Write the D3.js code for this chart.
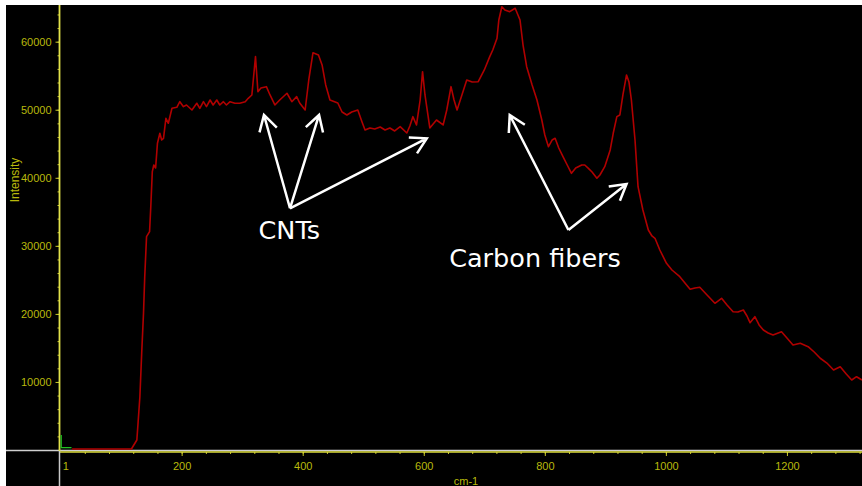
<!DOCTYPE html>
<html>
<head>
<meta charset="utf-8">
<title>Spectrum</title>
<script src="https://cdnjs.cloudflare.com/ajax/libs/d3/7.8.5/d3.min.js"></script>
<style>
body { margin: 0; background: #fff; }
svg { display: block; }
.tick text { font-family: "Liberation Sans", Arial, sans-serif; font-size: 11px; fill: #b9b90c; }
.tick line { stroke: #c8c828; }
.axlabel { font-family: "Liberation Sans", Arial, sans-serif; font-size: 11px; fill: #b9b90c; }
.note { font-family: "DejaVu Sans", sans-serif; font-size: 25.5px; fill: #fff; }
</style>
</head>
<body>
<svg width="862" height="486"></svg>
<script>
// spectrum: wavenumber (cm-1) / intensity
var wavenumber = [19,117,126,131,134,137,139,142,147,149,151.5,154,157,160,164,167,170,174,178,184,192,197,
  203,208,217,225,230,236,241,247,252,258,263,269,274,280,288,296,305,310,316,322,326,331,340,346,354,362,
  374,382,390,395,404,410,417,426,432,438,445,458,465,473,481,491,498,503,511,519,528,536,544,552,561,572,
  577,582,588,594,598,602,610,621,632,638,645,650,655,663,671,680,690,700,709,714,721,724,729,734,742,751,
  759,764,770,779,787,795,800,806,812,817,823,830,837,844,851,861,866,872,878,886,891,899,908,913,919,924,
  929,935,939,943,949,954,962,971,977,982,990,1001,1010,1023,1040,1048,1056,1068,1081,1092,1101,1111,1119,
  1128,1134,1139,1147,1154,1161,1169,1177,1191,1200,1210,1222,1235,1245,1255,1266,1277,1288,1298,1307,1315,1324];
var intensity = [150,150,1470,7830,14250,20130,25470,31350,32080,35750,40900,41880,41440,45070,46540,45550,45800,48740,48010,50210,50360,51180,
  50450,50700,49960,50950,50210,51180,50450,51430,50700,51430,50700,51180,50700,51180,50950,50950,51180,51680,52170,57800,52650,53200,53390,52170,50700,51430,
  52420,51180,51920,50990,49960,54370,58380,58050,56580,53640,51430,50990,49670,49230,49670,49960,48200,47020,47320,47170,47460,47020,47320,46880,47510,46580,
  47610,48980,47760,51430,55590,52170,47320,48490,47760,49960,53390,51430,49960,52170,54370,54080,54120,55840,57800,58780,60500,63190,65140,64660,64410,64910,
  63190,59510,56330,53640,51430,48490,46290,44570,45550,45800,44380,43100,41880,40660,41440,41880,41880,41390,40850,39930,40410,41630,44090,46540,48980,49230,
  52170,55110,54080,51430,45550,38690,35270,32330,31450,31110,29390,27430,26450,25470,23620,23810,23910,22780,21560,22290,21310,20320,20280,
  20570,19690,18710,19590,18370,17630,17190,16900,17380,16460,15430,15680,15180,14400,13480,12780,11760,12240,11170,10290,10770,10290];

// short green trace at the origin
var greenWave = [1, 1, 18];
var greenInt = [2200, 340, 340];

var yMajor = [10000, 20000, 30000, 40000, 50000, 60000];
var xMajor = [1, 200, 400, 600, 800, 1000, 1200];

// annotations: [x, intensity]
var cntFrom = [379, 35520];
var cntTips = [[336, 49230], [427, 49230], [605, 45800]];
var fiberFrom = [839, 32330];
var fiberTips = [[742, 49230], [935, 39090]];
var notes = [["CNTs", 327, 30960], ["Carbon fibers", 642, 26940]];

var svg = d3.select("svg");
var W = 862, H = 486;

var x = d3.scaleLinear().domain([1, 1324]).range([61.2, 862]);
var y = d3.scaleLinear().domain([0, 65390]).range([450, 5]);

svg.append("rect").attr("x", 6).attr("y", 5).attr("width", W - 6).attr("height", H - 5).attr("fill", "#000");

svg.append("clipPath").attr("id", "plot")
  .append("rect").attr("x", 6).attr("y", 5).attr("width", W - 6).attr("height", 446);

// y axis
var yMinor = svg.append("g").attr("transform", "translate(59.5,0)")
  .call(d3.axisLeft(y).tickValues(d3.range(2000, 64001, 2000)).tickSize(2).tickFormat(""));
var yAx = svg.append("g").attr("transform", "translate(59.5,0)")
  .call(d3.axisLeft(y).tickValues(yMajor).tickSize(4).tickPadding(4).tickFormat(d3.format("d")));
yMinor.select(".domain").remove();
yAx.select(".domain").remove();

// x axis
var xMinor = svg.append("g").attr("transform", "translate(0,452)")
  .call(d3.axisBottom(x).tickValues(d3.range(40, 1321, 40)).tickSize(2).tickFormat(""));
var xAx = svg.append("g").attr("transform", "translate(0,452)")
  .call(d3.axisBottom(x).tickValues(xMajor).tickSize(4).tickPadding(6).tickFormat(d3.format("d")));
xMinor.select(".domain").remove();
xAx.select(".domain").remove();
xAx.selectAll(".tick").filter(function(d) { return d == 1; })
  .select("text").attr("text-anchor", "start").attr("x", 1);
xAx.selectAll(".tick").filter(function(d) { return d == 1; }).select("line").remove();

// axis lines
svg.append("line").attr("x1", 6).attr("x2", W).attr("y1", 450.5).attr("y2", 450.5)
  .attr("stroke", "#cfcfcf").attr("stroke-width", 1.5);
svg.append("line").attr("x1", 59.5).attr("x2", W).attr("y1", 452).attr("y2", 452)
  .attr("stroke", "#dede3c").attr("stroke-width", 1.5);
svg.append("line").attr("x1", 59.5).attr("x2", 59.5).attr("y1", 451).attr("y2", H)
  .attr("stroke", "#c8c8c8").attr("stroke-width", 1.5);
svg.append("line").attr("x1", 59.5).attr("x2", 59.5).attr("y1", 5).attr("y2", 451)
  .attr("stroke", "#e2e24a").attr("stroke-width", 1.8);

svg.append("text").attr("class", "axlabel")
  .attr("transform", "translate(19,180) rotate(-90)")
  .attr("text-anchor", "middle").style("font-size", "12px").text("Intensity");
svg.append("text").attr("class", "axlabel")
  .attr("x", 466).attr("y", 485).attr("text-anchor", "middle").text("cm-1");

// traces
var line = d3.line()
  .x(function(d) { return x(d[0]); })
  .y(function(d) { return y(d[1]); });

svg.append("path")
  .datum(greenWave.map(function(w, i) { return [w, greenInt[i]]; }))
  .attr("d", line).attr("fill", "none").attr("stroke", "#22c022").attr("stroke-width", 1.3);

svg.append("path")
  .datum(wavenumber.map(function(w, i) { return [w, intensity[i]]; }))
  .attr("clip-path", "url(#plot)")
  .attr("d", line).attr("fill", "none").attr("stroke", "#b00000")
  .attr("stroke-width", 1.6).attr("stroke-linejoin", "round");

// arrows
function arrow(from, to) {
  var x0 = x(from[0]), y0 = y(from[1]), x1 = x(to[0]), y1 = y(to[1]);
  var a = Math.atan2(y0 - y1, x0 - x1), L = 18, h = Math.PI / 6;
  var p = "M" + x0 + "," + y0 + "L" + x1 + "," + y1 +
    "M" + (x1 + L * Math.cos(a + h)) + "," + (y1 + L * Math.sin(a + h)) +
    "L" + x1 + "," + y1 +
    "L" + (x1 + L * Math.cos(a - h)) + "," + (y1 + L * Math.sin(a - h));
  svg.append("path").attr("d", p).attr("fill", "none").attr("stroke", "#fff")
    .attr("stroke-width", 2.5).attr("stroke-linecap", "butt").attr("stroke-linejoin", "miter");
}
cntTips.forEach(function(t) { arrow(cntFrom, t); });
fiberTips.forEach(function(t) { arrow(fiberFrom, t); });

svg.selectAll(".note").data(notes).enter().append("text")
  .attr("class", "note")
  .attr("x", function(d) { return x(d[1]); })
  .attr("y", function(d) { return y(d[2]); })
  .text(function(d) { return d[0]; });
</script>
</body>
</html>
